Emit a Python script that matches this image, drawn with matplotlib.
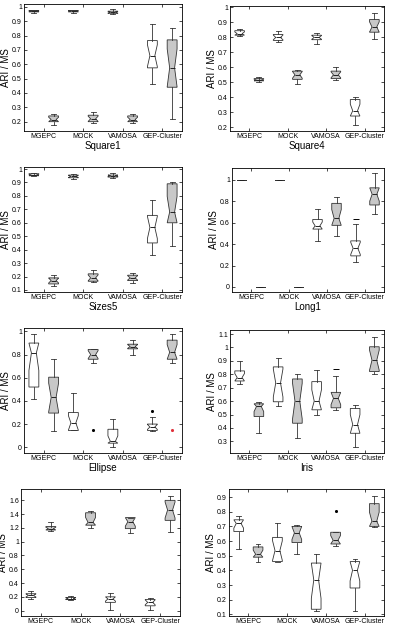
import matplotlib
matplotlib.use("Agg")
import matplotlib.pyplot as plt

plt.rcParams['font.family'] = ['Liberation Sans', 'DejaVu Sans']

methods = ["MGEPC", "MOCK", "VAMOSA", "GEP-Cluster"]

# each box: (low whisker, q1, median, q3, high whisker); white/gray pair per method
square1 = [(0.96, 0.965, 0.97, 0.975, 0.98), (0.18, 0.20, 0.215, 0.24, 0.25),
           (0.96, 0.965, 0.97, 0.975, 0.98), (0.19, 0.20, 0.22, 0.245, 0.27),
           (0.95, 0.955, 0.963, 0.97, 0.985), (0.19, 0.20, 0.215, 0.24, 0.25),
           (0.46, 0.575, 0.66, 0.765, 0.88), (0.22, 0.44, 0.575, 0.77, 0.855)]
square4 = [(0.81, 0.815, 0.825, 0.845, 0.855), (0.50, 0.51, 0.515, 0.525, 0.535),
           (0.77, 0.78, 0.80, 0.82, 0.84), (0.49, 0.52, 0.55, 0.575, 0.585),
           (0.755, 0.785, 0.80, 0.815, 0.83), (0.515, 0.525, 0.55, 0.575, 0.60),
           (0.215, 0.275, 0.31, 0.385, 0.405), (0.79, 0.835, 0.87, 0.92, 0.965)]
sizes5 = [(0.945, 0.95, 0.955, 0.965, 0.97), (0.13, 0.145, 0.17, 0.19, 0.21),
          (0.925, 0.935, 0.945, 0.955, 0.965), (0.16, 0.165, 0.19, 0.22, 0.25),
          (0.93, 0.94, 0.95, 0.955, 0.97), (0.155, 0.17, 0.19, 0.21, 0.225),
          (0.36, 0.45, 0.565, 0.655, 0.77), (0.43, 0.60, 0.68, 0.89, 0.905)]
long1 = [(1.0, 1.0, 1.0, 1.0, 1.0), (0.0, 0.0, 0.0, 0.0, 0.0),
         (1.0, 1.0, 1.0, 1.0, 1.0), (0.0, 0.0, 0.0, 0.0, 0.0),
         (0.43, 0.54, 0.57, 0.63, 0.73), (0.48, 0.575, 0.64, 0.78, 0.84),
         (0.23, 0.29, 0.36, 0.43, 0.59), (0.68, 0.765, 0.865, 0.925, 1.065)]
ellipse = [(0.42, 0.52, 0.815, 0.90, 0.975), (0.14, 0.295, 0.43, 0.605, 0.765),
           (0.145, 0.145, 0.21, 0.30, 0.465), (0.73, 0.76, 0.80, 0.845, 0.85),
           (0.005, 0.035, 0.05, 0.155, 0.245), (0.80, 0.85, 0.87, 0.89, 0.925),
           (0.14, 0.145, 0.175, 0.20, 0.26), (0.73, 0.76, 0.82, 0.925, 0.975)]
iris = [(0.73, 0.75, 0.775, 0.825, 0.90), (0.36, 0.485, 0.56, 0.58, 0.595),
        (0.565, 0.595, 0.735, 0.855, 0.92), (0.325, 0.435, 0.60, 0.765, 0.805),
        (0.50, 0.535, 0.60, 0.745, 0.835), (0.53, 0.55, 0.62, 0.665, 0.79),
        (0.26, 0.36, 0.425, 0.545, 0.57), (0.80, 0.82, 0.905, 1.005, 1.08)]
panel7 = [(0.17, 0.19, 0.22, 0.245, 0.29), (1.15, 1.17, 1.19, 1.22, 1.29),
          (0.15, 0.16, 0.175, 0.19, 0.21), (1.20, 1.24, 1.28, 1.42, 1.45),
          (0.01, 0.12, 0.17, 0.20, 0.26), (1.13, 1.19, 1.29, 1.35, 1.35),
          (0.01, 0.07, 0.12, 0.16, 0.19), (1.14, 1.31, 1.46, 1.60, 1.67)]
panel8 = [(0.545, 0.665, 0.72, 0.745, 0.77), (0.455, 0.49, 0.51, 0.56, 0.58),
          (0.455, 0.46, 0.535, 0.625, 0.72), (0.51, 0.59, 0.655, 0.70, 0.71),
          (0.12, 0.135, 0.335, 0.45, 0.51), (0.565, 0.58, 0.605, 0.66, 0.66),
          (0.12, 0.28, 0.40, 0.46, 0.475), (0.695, 0.70, 0.735, 0.855, 0.91)]

# outliers: (panel index, box number, value, colour, marker)
outliers = [(3, 7, 0.63, "k", "_"),
            (4, 4, 0.15, "k", "."), (4, 7, 0.31, "k", "."),
            (4, 8, 0.15, "#e0303a", "."),
            (5, 6, 0.84, "k", "_"),
            (7, 6, 0.805, "k", ".")]

yticks_sq = [0.2, 0.3, 0.4, 0.5, 0.6, 0.7, 0.8, 0.9, 1]
panels = [
    ("Square1", square1, yticks_sq, (0.135, 1.02), (24, 4, 182, 131)),
    ("Square4", square4, yticks_sq, (0.175, 1.01), (230, 6, 384, 131)),
    ("Sizes5", sizes5, [0.1, 0.2, 0.3, 0.4, 0.5, 0.6, 0.7, 0.8, 0.9, 1], (0.085, 1.015), (24, 167, 182, 292)),
    ("Long1", long1, [0, 0.2, 0.4, 0.6, 0.8, 1], (-0.047, 1.11), (232, 168, 384, 292)),
    ("Ellipse", ellipse, [0, 0.2, 0.4, 0.6, 0.8, 1], (-0.05, 1.03), (24, 328, 182, 453)),
    ("Iris", iris, [0.3, 0.4, 0.5, 0.6, 0.7, 0.8, 0.9, 1, 1.1], (0.213, 1.13), (230, 330, 384, 453)),
    ("", panel7, [0, 0.2, 0.4, 0.6, 0.8, 1, 1.2, 1.4, 1.6], (-0.078, 1.765), (21, 489, 180, 616)),
    ("", panel8, [0.1, 0.2, 0.3, 0.4, 0.5, 0.6, 0.7, 0.8, 0.9], (0.089, 0.955), (229, 489, 384, 616)),
]

W, H = 394, 623
fig = plt.figure(figsize=(W / 100, H / 100), dpi=100)
line = dict(color="#333333", linewidth=0.6)

for idx, (name, boxes, yticks, ylim, (x0, y0, x1, y1)) in enumerate(panels):
    ax = fig.add_axes([x0 / W, 1 - y1 / H, (x1 - x0) / W, (y1 - y0) / H])
    stats = []
    for lo, q1, med, q3, hi in boxes:
        half = 0.4 * (q3 - q1)
        stats.append(dict(whislo=lo, q1=q1, med=med, q3=q3, whishi=hi, fliers=[],
                          cilo=max(q1, med - half), cihi=min(q3, med + half)))
    bp = ax.bxp(stats, positions=range(1, 9), widths=0.5, capwidths=0.25,
                shownotches=True, patch_artist=True, showfliers=False,
                boxprops=dict(edgecolor="#333333", linewidth=0.6),
                whiskerprops=line, capprops=line,
                medianprops=dict(color="#222222", linewidth=0.7))
    for i, patch in enumerate(bp["boxes"]):
        patch.set_facecolor("white" if i % 2 == 0 else "#c8c8c8")
    for pidx, pos, val, col, mk in outliers:
        if pidx == idx:
            ax.plot(pos, val, marker=mk, color=col, markersize=3 if mk == "." else 4,
                    markeredgewidth=0.7, linestyle="none")
    ax.set_xlim(0.5, 8.5)
    ax.set_ylim(*ylim)
    ax.set_yticks(yticks)
    ax.set_yticklabels([f"{v:g}" for v in yticks])
    ax.set_xticks([1.5, 3.5, 5.5, 7.5])
    ax.set_xticklabels(methods)
    ax.tick_params(direction="in", length=2, width=0.5, labelsize=5, pad=1.5,
                   right=True, top=True)
    for s in ax.spines.values():
        s.set_linewidth(0.6)
    ax.set_ylabel("ARI / MS", fontsize=7, labelpad=1)
    if name:
        ax.set_xlabel(name, fontsize=7, labelpad=0.5)

fig.savefig("out.png", dpi=100)
